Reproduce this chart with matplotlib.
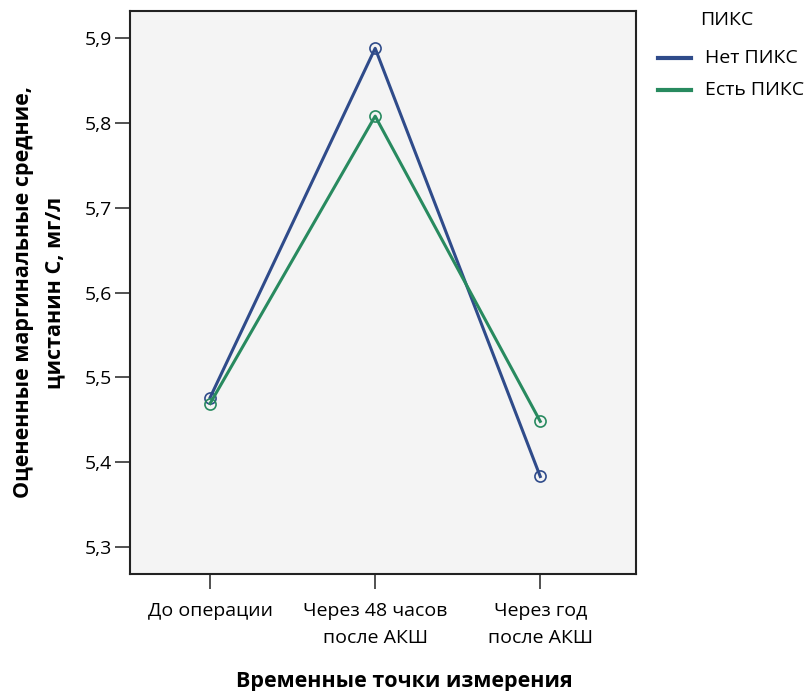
import matplotlib
matplotlib.use("Agg")
import matplotlib.pyplot as plt

plt.rcParams['font.family'] = ['Open Sans', 'DejaVu Sans']

categories = ['До операции', 'Через 48 часов\nпосле АКШ', 'Через год\nпосле АКШ']
no_piks = [5.476, 5.888, 5.383]
yes_piks = [5.469, 5.808, 5.448]
yticks = [5.3, 5.4, 5.5, 5.6, 5.7, 5.8, 5.9]

blue = '#2f4b8a'
green = '#288a5f'

W, H = 807, 691
fig = plt.figure(figsize=(W / 100, H / 100), dpi=100)
ax = fig.add_axes([130 / W, 1 - 574 / H, (636 - 130) / W, (574 - 11) / H])
ax.set_facecolor('#f4f4f4')

x = range(len(categories))
ax.plot(x, no_piks, color=blue, lw=2.2, marker='o', ms=8, mfc='none', mew=1.2)
ax.plot(x, yes_piks, color=green, lw=2.2, marker='o', ms=8, mfc='none', mew=1.2)

ax.set_xlim(-0.485, 2.58)
ax.set_ylim(5.268, 5.932)
ax.set_yticks(yticks)
ax.set_yticklabels([f'{v:.1f}'.replace('.', ',') for v in yticks])
ax.set_xticks(list(x))
ax.set_xticklabels(categories, linespacing=1.65)
ax.tick_params(axis='both', labelsize=14, length=11, width=1.2, color='#333333')
ax.tick_params(axis='x', pad=9)
ax.tick_params(axis='y', pad=2)
for s in ax.spines.values():
    s.set_linewidth(1.5)
    s.set_color('#222222')

ax.set_xlabel('Временные точки измерения', fontsize=15.5, fontweight='bold')
ax.xaxis.set_label_coords(0.543, -0.172)
ax.set_ylabel('Оцененные маргинальные средние,\nцистанин С, мг/л', fontsize=15.5,
              fontweight='bold', linespacing=1.65)
ax.yaxis.set_label_coords(-0.128, 0.5)

# legend
fig.text(700 / W, 1 - 20 / H, 'ПИКС', fontsize=14, ha='left', va='center')
for yy, c, lab in [(58, blue, 'Нет ПИКС'), (90, green, 'Есть ПИКС')]:
    fig.add_artist(plt.Line2D([658 / W, 691 / W], [1 - yy / H] * 2, color=c, lw=3))
    fig.text(705 / W, 1 - yy / H, lab, fontsize=14, ha='left', va='center')

fig.savefig('out.png', dpi=100)
